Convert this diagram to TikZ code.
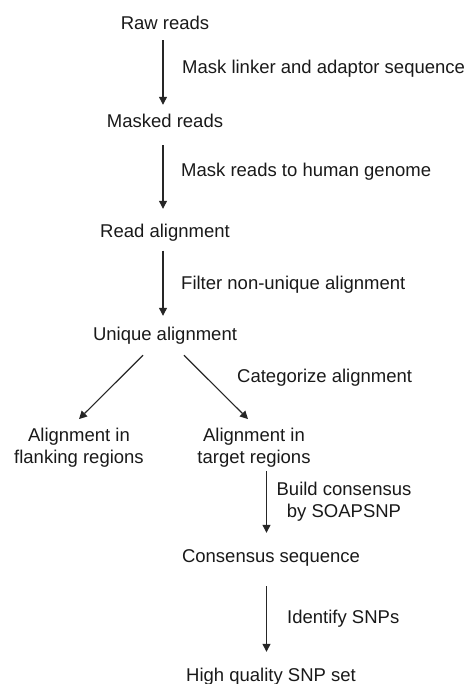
\documentclass[tikz,border=0pt]{standalone}
\usepackage{fontspec}
\setmainfont{Liberation Sans}
\usetikzlibrary{arrows.meta}
\tikzset{
  stage/.style={inner sep=0pt, anchor=base, text height=13.5pt, text depth=4pt, align=center, font=\fontsize{18.5}{22}\selectfont, text=black!90},
  stagetwo/.style={inner sep=0pt, anchor=center, align=center, font=\fontsize{18.5}{22}\selectfont, text=black!90},
  note/.style={inner sep=0pt, anchor=base west, font=\fontsize{18.5}{22}\selectfont, text=black!90},
  flow/.style={line width=1.2pt, draw=black!85, -{Triangle[length=8pt,width=8pt]}}
}
\begin{document}
\begin{tikzpicture}[x=1pt,y=-1pt]
\useasboundingbox (0,0) rectangle (467,684);

\node[stage] (raw)    at (165,30)  {Raw reads};
\node[stage] (masked) at (165,128) {Masked reads};
\node[stage] (read)   at (165,237) {Read alignment};
\node[stage] (unique) at (165,340) {Unique alignment};
\node[stagetwo] (flank)  at (79,447.4)  {Alignment in\\flanking regions};
\node[stagetwo] (target) at (254,447.4) {Alignment in\\target regions};
\node[stage] (cons) at (271,562) {Consensus sequence};
\node[stage] (hq)   at (271,681) {High quality SNP set};

\node[note] (mask)   at (182,74)  {Mask linker and adaptor sequence};
\node[note] (map)    at (181,177) {Mask reads to human genome};
\node[note] (filter) at (181,289) {Filter non-unique alignment};
\node[note] (categ)  at (237,382) {Categorize alignment};
\node[stagetwo] (build) at (344,501.3) {Build consensus\\by SOAPSNP};
\node[note] (ident)  at (287,623) {Identify SNPs};

\draw[flow, shorten <=6pt, shorten >=9.5pt] ([xshift=-2pt]raw.south) -- ([xshift=-2pt]masked.north);
\draw[flow, shorten <=13pt, shorten >=14.5pt] ([xshift=-2pt]masked.south) -- ([xshift=-2pt]read.north);
\draw[flow, shorten <=9.5pt, shorten >=10.5pt] ([xshift=-2pt]read.south) -- ([xshift=-2pt]unique.north);
\draw[flow] ([xshift=-22pt,yshift=-11pt]unique.south) -- ([yshift=8.5pt]flank.north);
\draw[flow] ([xshift=19pt,yshift=-11pt]unique.south) -- ([xshift=-6pt,yshift=8.5pt]target.north);
\draw[flow, shorten <=4pt, shorten >=15.5pt] ([xshift=-4.5pt]cons.north |- target.south) -- ([xshift=-4.5pt]cons.north);
\draw[flow, shorten <=20pt, shorten >=15.5pt] ([xshift=-4.5pt]cons.south) -- ([xshift=-4.5pt]hq.north);

\end{tikzpicture}
\end{document}
